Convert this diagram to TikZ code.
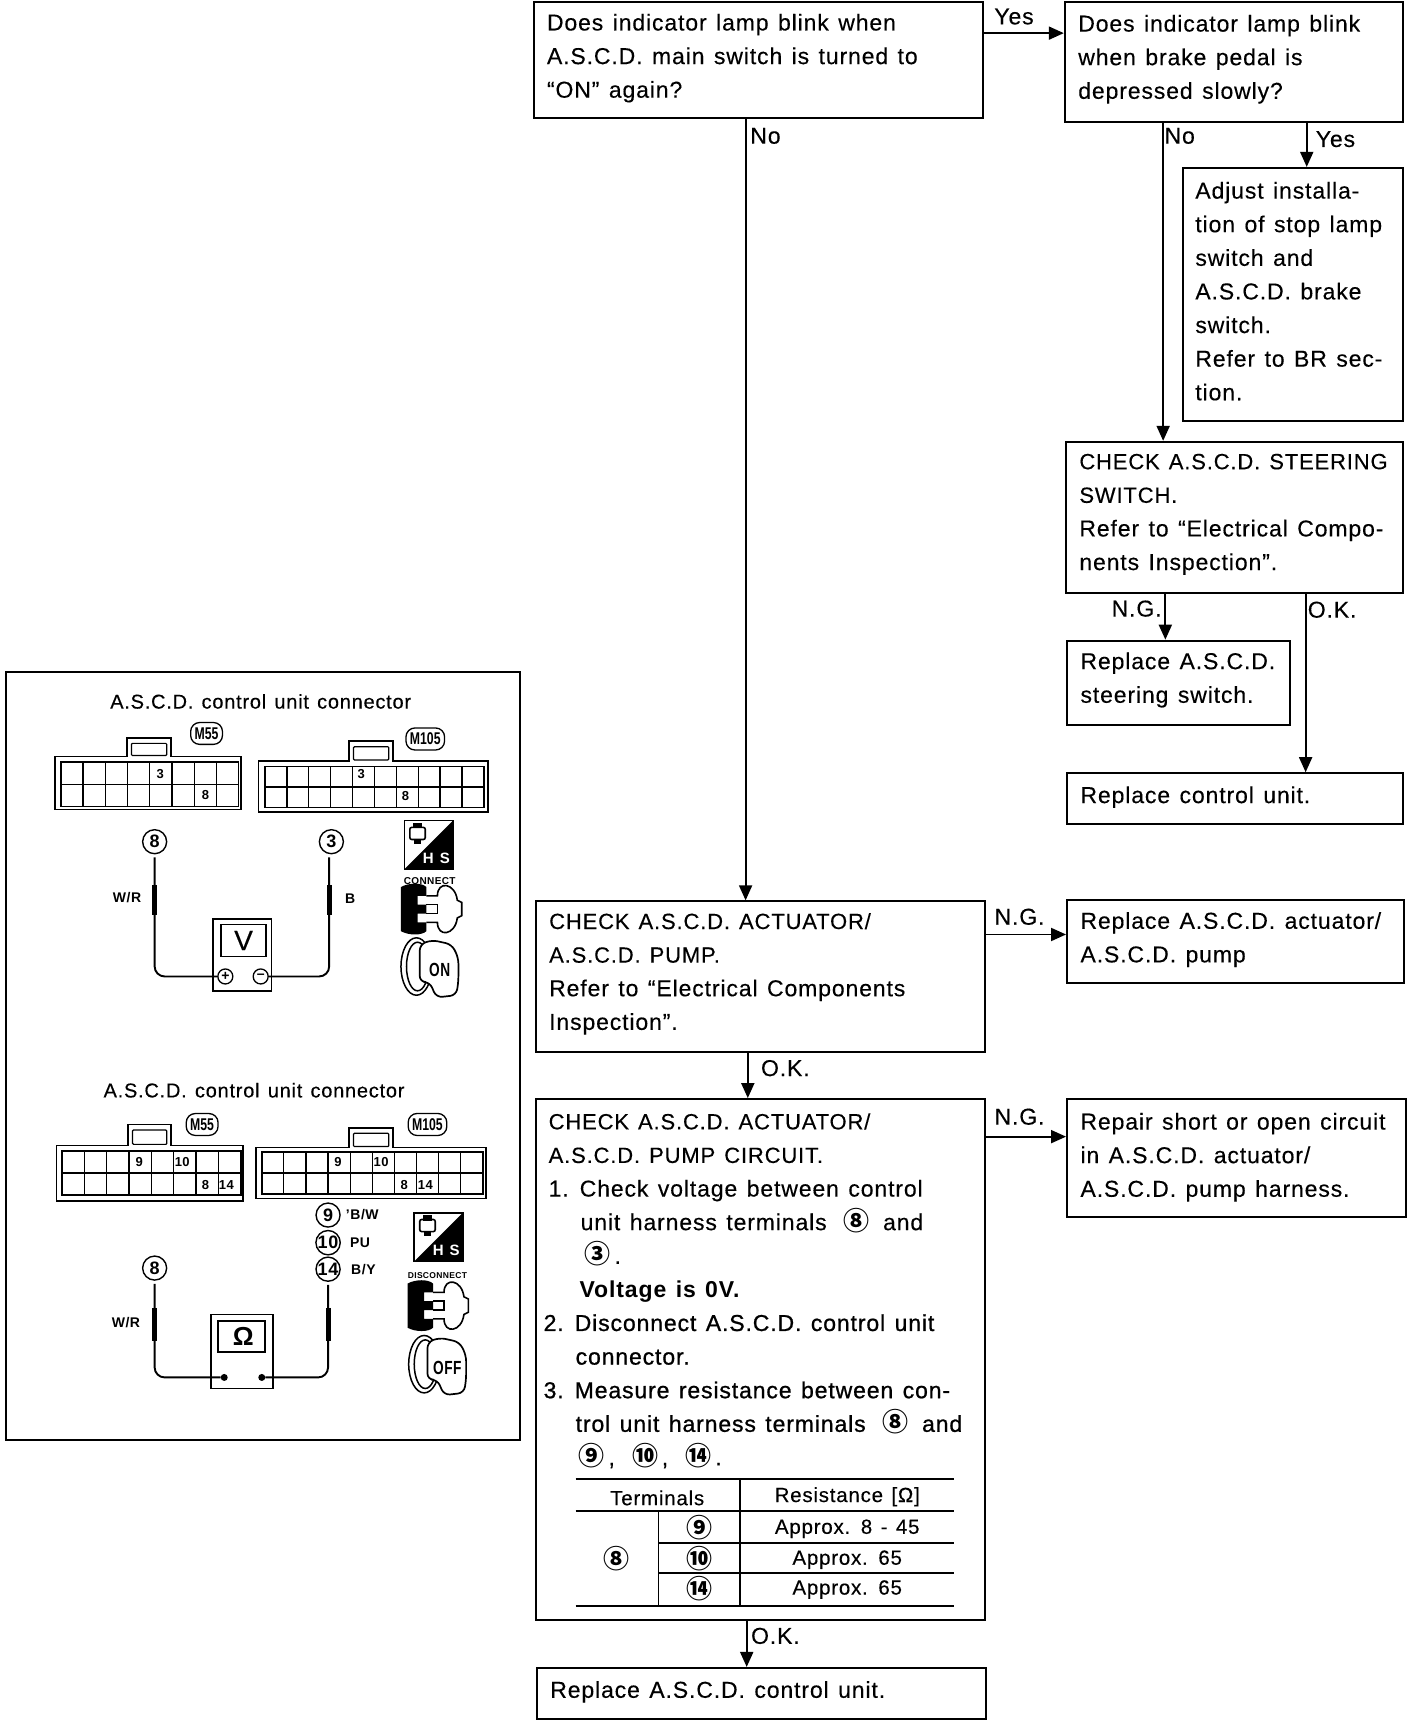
\documentclass[tikz,border=0pt]{standalone}
\usepackage{fontspec}
\usepackage{tikz}
\usetikzlibrary{arrows.meta,positioning,fit,calc}
\setmainfont{Liberation Sans}[LetterSpace=3.8,WordSpace=1.3,FakeBold=0.3,BoldFeatures={FakeBold=0}]
\newfontfamily\heavyfont{Liberation Sans}[LetterSpace=3.8,WordSpace=1.3,FakeBold=0.9]
\newfontfamily\symfont{Noto Sans CJK SC}
\newfontfamily\tagfont{Liberation Sans Bold}[FakeStretch=0.72]
\newcommand{\cn}[1]{{\symfont\bfseries\fontsize{26}{33.6}\selectfont #1}}
\newcommand{\capl}[1]{{\fontsize{22}{33.6}\selectfont #1}}
\tikzset{
  flowbox/.style={draw,line width=2pt,inner sep=0pt},
  flowtxt/.style={anchor=west,align=left,inner sep=0pt,yshift=-1.8pt,font=\fontsize{23}{33.6}\selectfont},
  edgetxt/.style={inner sep=0pt,font=\fontsize{23}{26}\selectfont},
  conn/.style={draw,line width=1.9pt,-{Triangle[length=15pt,width=13pt]}},
  celltxt/.style={inner sep=0pt,font=\fontsize{13}{13}\bfseries\selectfont},
  tagbox/.style={draw,line width=1.3pt,rounded corners=9pt,inner xsep=4pt,inner ysep=5pt,font=\fontsize{17}{17}\selectfont},
  termnum/.style={draw,circle,line width=1.4pt,minimum size=24pt,inner sep=0pt,font=\fontsize{18}{18}\bfseries\selectfont},
  wirelbl/.style={inner sep=0pt,font=\fontsize{14}{14}\bfseries\selectfont},
  tbltxt/.style={inner sep=0pt,font=\fontsize{20.5}{24}\selectfont},
  wire/.style={line width=1.9pt,rounded corners=10pt},
  hsicon/.pic={
    \draw[line width=1.5pt] (-22,-22) rectangle (22,22);
    \fill (-22,22) -- (22,-22) -- (22,22) -- cycle;
    \draw[line width=1.6pt,rounded corners=2pt] (-17,-16) rectangle (-3,-5);
    \fill (-14,-20) rectangle (-6,-15);
    \fill (-13,-5) rectangle (-7,-1);
    \node[inner sep=0pt,white,font=\fontsize{15}{15}\bfseries\selectfont] at (7,12) {H S};
  },
  plugicon/.pic={
    \fill (-27,-20) .. controls (-20,-24) and (-8,-24) .. (-4,-20) -- (-4,-12) -- (-12,-12) -- (-12,-4)
      -- (-4,-4) -- (-4,4) -- (-12,4) -- (-12,12) -- (-4,12) -- (-4,20)
      .. controls (-8,24) and (-20,24) .. (-27,20) -- cycle;
    \draw[line width=1.6pt] (-4,-12) -- (6,-12) .. controls (6,-26) and (22,-24) .. (24,-8)
      -- (28,-6) -- (28,6) -- (24,8) .. controls (22,24) and (6,26) .. (6,12) -- (-4,12);
    \draw[line width=1.6pt] (-4,-4) -- (6,-4) -- (6,4) -- (-4,4);
  },
  keyicon/.pic={
    \draw[line width=1.5pt] (-12,0) ellipse (14 and 26);
    \draw[line width=1.5pt] (-11,0) ellipse (10 and 22);
    \draw[line width=1.7pt,fill=white,rounded corners=6pt] (-9,-20) -- (2,-24) -- (20,-20) -- (26,-8) -- (26,14)
      -- (24,26) -- (6,28) -- (0,14) -- (-9,14) -- cycle;
    \node[inner sep=0pt,font=\fontsize{19}{19}\bfseries\selectfont,xscale=.72] at (9,3) {\tikzpictext};
  }
}
\begin{document}
\begin{tikzpicture}[x=1.1043pt,y=-1.1043pt,>=Stealth]
  \useasboundingbox (0,0) rectangle (1275,1568);

  % flow boxes
  \node[flowbox,fit={(483,2)(890,107)}] (lamp) {};
  \node[flowbox,fit={(964,2)(1270,110)}] (brake) {};
  \node[flowbox,fit={(1071,152)(1270,381)}] (adjust) {};
  \node[flowbox,fit={(965,400)(1270,537)}] (steer) {};
  \node[flowbox,fit={(966,580)(1168,656)}] (newsteer) {};
  \node[flowbox,fit={(966,700)(1270,746)}] (newunit) {};
  \node[flowbox,fit={(485,816)(892,952)}] (pump) {};
  \node[flowbox,fit={(966,815)(1271,890)}] (newpump) {};
  \node[flowbox,fit={(485,995)(892,1467)}] (circuit) {};
  \node[flowbox,fit={(966,995)(1273,1102)}] (repair) {};
  \node[flowbox,fit={(486,1510)(893,1556)}] (lastunit) {};

  \node[flowtxt] (lamptxt) at (495,51) {Does indicator lamp blink when\\A.S.C.D. main switch is turned to\\``ON'' again?};
  \node[flowtxt] (braketxt) at (976,52) {Does indicator lamp blink\\when brake pedal is\\depressed slowly?};
  \node[flowtxt] (adjusttxt) at (1082,262) {Adjust installa-\\tion of stop lamp\\switch and\\A.S.C.D. brake\\switch.\\Refer to BR sec-\\tion.};
  \node[flowtxt] (steertxt) at (977,464) {\capl{CHECK A.S.C.D. STEERING}\\\capl{SWITCH.}\\Refer to ``Electrical Compo-\\nents Inspection''.};
  \node[flowtxt] (newsteertxt) at (978,614) {Replace A.S.C.D.\\steering switch.};
  \node[flowtxt] (newunittxt) at (978,720) {Replace control unit.};
  \node[flowtxt] (pumptxt) at (497,880) {\capl{CHECK A.S.C.D. ACTUATOR/}\\\capl{A.S.C.D. PUMP.}\\Refer to ``Electrical Components\\Inspection''.};
  \node[flowtxt] (newpumptxt) at (978,849) {Replace A.S.C.D. actuator/\\A.S.C.D. pump};
  \node[flowtxt] (repairtxt) at (978,1046) {Repair short or open circuit\\in A.S.C.D. actuator/\\A.S.C.D. pump harness.};
  \node[flowtxt] (lastunittxt) at (498,1530) {Replace A.S.C.D. control unit.};
  \node[flowtxt] (circuittxt) at (492,1167) {\hspace*{5pt}\capl{CHECK A.S.C.D. ACTUATOR/}\\
    \hspace*{5pt}\capl{A.S.C.D. PUMP CIRCUIT.}\\
    \hspace*{5pt}1.\hspace{11pt}Check voltage between control\\
    \hspace*{37pt}unit harness terminals \,\,\cn{⑧}\, and\\
    \hspace*{41pt}\cn{③}\,.\\
    \hspace*{36pt}\textbf{Voltage is 0V.}\\
    {\heavyfont 2.\hspace{11pt}Disconnect A.S.C.D. control unit}\\
    \hspace*{32pt}{\heavyfont connector.}\\
    {\heavyfont 3.\hspace{11pt}Measure resistance between con-}\\
    \hspace*{32pt}{\heavyfont trol unit harness terminals} \,\,\cn{⑧}\, {\heavyfont and}\\
    \hspace*{35pt}\cn{⑨}\,, \,\,\cn{⑩}\,, \,\,\cn{⑭}\,.};

  % table in the circuit box
  \draw[line width=2.6pt] (521,1339) -- (864,1339) (521,1454) -- (864,1454);
  \draw[line width=1.5pt] (521,1368) -- (864,1368) (596,1397) -- (864,1397) (596,1424) -- (864,1424);
  \draw[line width=1.5pt] (670,1339) -- (670,1454) (596,1368) -- (596,1454);
  \node[tbltxt] (thterm) at (595,1356) {Terminals};
  \node[tbltxt] (thres) at (767,1355) {Resistance [Ω]};
  \node[tbltxt] (teight) at (558,1411) {\cn{⑧}};
  \foreach \n/\cnum/\val/\yy in {a/⑨/Approx. 8 - 45/1383, b/⑩/Approx. 65/1411, c/⑭/Approx. 65/1438}{
    \node[tbltxt] (tnum\n) at (633,\yy) {\cn{\cnum}};
    \node[tbltxt] (tval\n) at (767,\yy+1) {\val};
  }

  % connectors
  \draw[conn] (lamp.east |- 0,30) -- (brake.west |- 0,30);
  \draw[conn] (675,0 |- lamp.south) -- (675,0 |- pump.north);
  \draw[conn] (1053,0 |- brake.south) -- (1053,0 |- steer.north);
  \draw[conn] (1183,0 |- brake.south) -- (1183,0 |- adjust.north);
  \draw[conn] (1055,0 |- steer.south) -- (1055,0 |- newsteer.north);
  \draw[conn] (1182,0 |- steer.south) -- (1182,0 |- newunit.north);
  \draw[conn] (pump.east |- 0,846) -- (newpump.west |- 0,846);
  \draw[conn] (677,0 |- pump.south) -- (677,0 |- circuit.north);
  \draw[conn] (circuit.east |- 0,1029) -- (repair.west |- 0,1029);
  \draw[conn] (676,0 |- circuit.south) -- (676,0 |- lastunit.north);

  \node[edgetxt] (yes1) at (918,15) {Yes};
  \node[edgetxt] (no1) at (693,123) {No};
  \node[edgetxt] (no2) at (1068,123) {No};
  \node[edgetxt] (yes2) at (1209,126) {Yes};
  \node[edgetxt] (ng1) at (1029,551) {N.G.};
  \node[edgetxt] (ok1) at (1206,552) {O.K.};
  \node[edgetxt] (ng2) at (923,830) {N.G.};
  \node[edgetxt] (ok2) at (711,967) {O.K.};
  \node[edgetxt] (ng3) at (923,1011) {N.G.};
  \node[edgetxt] (ok3) at (702,1481) {O.K.};

  % test panel
  \node[flowbox,fit={(5,608)(471,1304)}] (panel) {};
  \node[inner sep=0pt,font=\fontsize{20}{22}\selectfont] (title1) at (236,635) {A.S.C.D. control unit connector};
  \node[inner sep=0pt,font=\fontsize{20}{22}\selectfont] (title2) at (230,987) {A.S.C.D. control unit connector};

  \foreach \xa/\xb/\ya/\yb/\ta/\tb/\tt/\ga/\gb/\gc/\gd/\cols in {
    50/218/685/733/115/155/668/55/216/690/730/8,
    234/442/689/735/316/356/671/240/438/694/731/10,
    51/220/1037/1087/116/155/1018/56/218/1042/1082/8,
    232/440/1039/1085/316/356/1021/237/437/1043/1081/10}{
    \draw[line width=1.6pt] (\xa,\ya) -- (\ta,\ya) -- (\ta,\tt) -- (\tb,\tt) -- (\tb,\ya) -- (\xb,\ya)
      -- (\xb,\yb) -- (\xa,\yb) -- cycle;
    \draw[line width=1.2pt,rounded corners=1pt] (\ta+4,\tt+5) rectangle (\tb-4,\ya-1);
    \draw[line width=1.7pt] (\ga,\gc) rectangle (\gb,\gd);
    \draw[line width=1.4pt] (\ga,{(\gc+\gd)/2}) -- (\gb,{(\gc+\gd)/2});
    \foreach \k in {1,...,\cols}
      \draw[line width=1.2pt] ({\ga+\k*(\gb-\ga)/\cols},\gc) -- ({\ga+\k*(\gb-\ga)/\cols},\gd);
  }
  \node[tagbox] (tag1) at (187,664) {\tagfont M55};
  \node[tagbox] (tag2) at (385,669) {\tagfont M105};
  \node[tagbox] (tag3) at (183,1018) {\tagfont M55};
  \node[tagbox] (tag4) at (387,1018) {\tagfont M105};
  \foreach \nm/\lbl/\xx/\yy in {a/3/145/701, b/8/186/720, c/3/327/701, d/8/367/721,
    e/9/126/1052, f/10/165/1052, g/8/186/1073, h/14/205/1073,
    i/9/306/1052, j/10/345/1052, k/8/366/1073, l/14/385/1073}
    \node[celltxt] (cell\nm) at (\xx,\yy) {\lbl};

  % voltage check
  \node[termnum] (volt8) at (140,762) {8};
  \node[termnum] (volt3) at (300,762) {3};
  \node[draw,line width=1.5pt,fit={(193,832)(246,897)},inner sep=0pt] (vmeter) {};
  \node[draw,line width=1.8pt,fit={(200,837)(241,866)},inner sep=0pt] (vface) {};
  \node[inner sep=0pt,font=\fontsize{28}{28}\selectfont] (vmark) at (vface.center) {V};
  \node[draw,circle,line width=1.3pt,minimum size=15pt,inner sep=0pt,font=\fontsize{14}{14}\bfseries\selectfont] (vplus) at (204,884) {+};
  \node[draw,circle,line width=1.3pt,minimum size=15pt,inner sep=0pt,font=\fontsize{14}{14}\bfseries\selectfont] (vminus) at (236,884) {–};
  \draw[wire,shorten <=3pt] (volt8.south) -- (volt8.south |- vplus.west) -- (vplus.west);
  \draw[wire,shorten <=3pt] (298,0 |- volt3.south) -- (298,0 |- vminus.east) -- (vminus.east);
  \draw[line width=5pt] (140,801) -- (140,828) (298,801) -- (298,828);
  \node[wirelbl] (vwr) at (115,813) {W/R};
  \node[wirelbl] (vb) at (317,814) {B};
  \pic at (388,765) {hsicon};
  \node[inner sep=0pt,font=\fontsize{10}{10}\bfseries\selectfont] (plugon) at (389,798) {CONNECT};
  \pic at (390,823) {plugicon};
  \pic[pic text=ON] at (389,875) {keyicon};

  % resistance check
  \node[termnum] (res8) at (140,1148) {8};
  \node[termnum] (res9) at (297,1100) {9};
  \node[termnum] (res10) at (297,1125) {10};
  \node[termnum] (res14) at (297,1149) {14};
  \node[draw,line width=1.5pt,fit={(191,1190)(247,1257)},inner sep=0pt] (rmeter) {};
  \node[draw,line width=1.8pt,fit={(197,1196)(240,1224)},inner sep=0pt] (rface) {};
  \node[inner sep=0pt,font=\fontsize{26}{26}\bfseries\selectfont] (rmark) at ([xshift=2pt]rface.center) {Ω};
  \node[circle,fill,minimum size=7pt,inner sep=0pt] (rdot1) at (203,1247) {};
  \node[circle,fill,minimum size=7pt,inner sep=0pt] (rdot2) at (237,1247) {};
  \draw[wire,shorten <=3pt] (res8.south) -- (res8.south |- rdot1.west) -- (rdot1.west);
  \draw[wire,shorten <=3pt] (res14.south) -- (res14.south |- rdot2.east) -- (rdot2.east);
  \draw[line width=5pt] (140,1184) -- (140,1214) (297,1184) -- (297,1214);
  \node[wirelbl] (rwr) at (114,1197) {W/R};
  \node[wirelbl] (rbw) at (328,1100) {'B/W};
  \node[wirelbl] (rpu) at (326,1125) {PU};
  \node[wirelbl] (rby) at (329,1149) {B/Y};
  \pic at (397,1120) {hsicon};
  \node[inner sep=0pt,font=\fontsize{8.5}{8.5}\bfseries\selectfont] (plugoff) at (396,1155) {DISCONNECT};
  \pic at (396,1182) {plugicon};
  \pic[pic text=OFF] at (396,1235) {keyicon};
\end{tikzpicture}
\end{document}
